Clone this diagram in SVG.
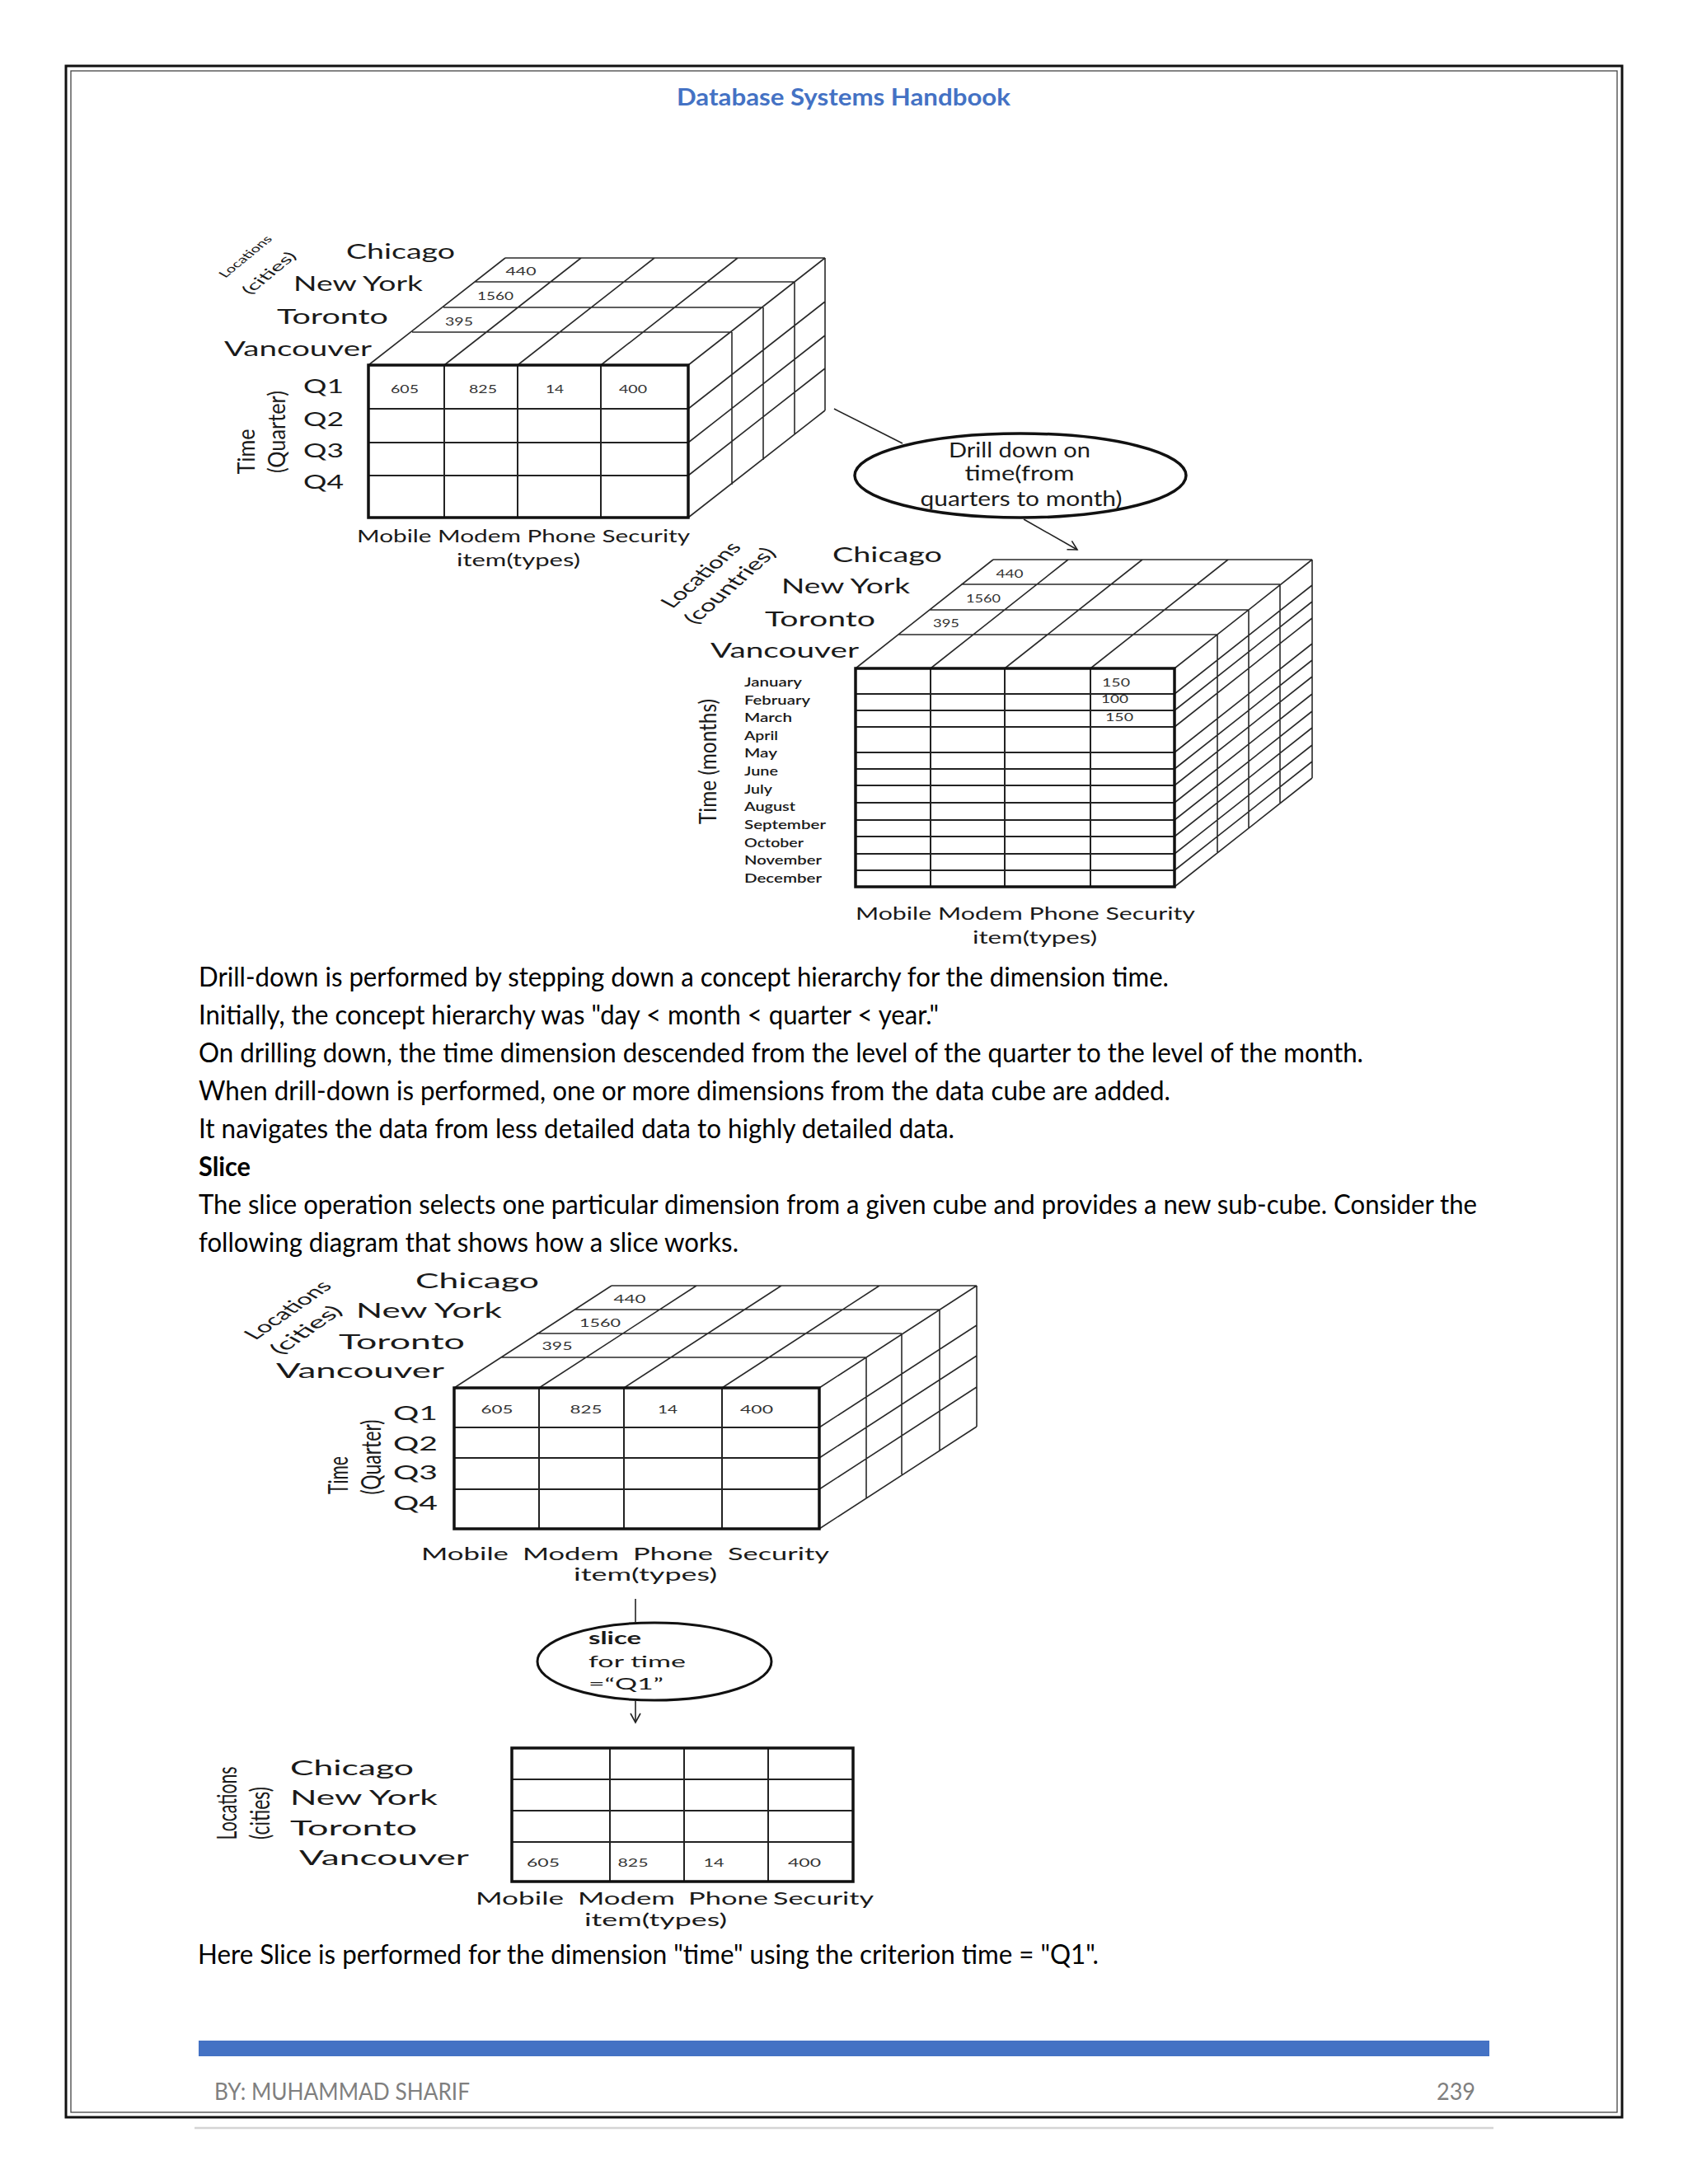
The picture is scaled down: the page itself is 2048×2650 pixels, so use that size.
<svg xmlns="http://www.w3.org/2000/svg" width="2048" height="2650" viewBox="0 0 2048 2650">
<style>
text{font-family:Lato,"Open Sans","DejaVu Sans",sans-serif;fill:#1a1a1a}
.body{font-size:33px;fill:#000}
.city{font-size:25px}
.q{font-size:24px}
.axis{font-size:22px}
.num{font-size:14px;fill:#333}
.mon{font-size:16px;font-weight:600}
.rot{font-size:20px}
.ell{font-size:25px}
.grid3d{fill:none;stroke:#2a2a2a;stroke-width:1.6}
.inner{fill:none;stroke:#222;stroke-width:2}
.front{fill:none;stroke:#111;stroke-width:3.5}
.conn{fill:none;stroke:#222;stroke-width:1.6}
</style>
<defs>
<marker id="open" markerWidth="14" markerHeight="14" refX="12" refY="7" orient="auto" markerUnits="userSpaceOnUse">
<path d="M1,1 L12,7 L1,13" fill="none" stroke="#222" stroke-width="1.6"/>
</marker>
</defs>
<rect width="2048" height="2650" fill="#fff"/>
<g id="page-frame">
<rect x="80" y="80" width="1888" height="2489" fill="none" stroke="#111" stroke-width="3"/>
<rect x="86" y="86" width="1876" height="2477" fill="none" stroke="#444" stroke-width="1.3"/>
<text x="821" y="128" font-size="28" font-weight="bold" style="fill:#4472C4" textLength="405" lengthAdjust="spacingAndGlyphs">Database Systems Handbook</text>
<rect x="241" y="2476" width="1566" height="19" fill="#4472C4"/>
<text x="260" y="2548" font-size="28" style="fill:#7f7f7f" textLength="310" lengthAdjust="spacingAndGlyphs">BY: MUHAMMAD SHARIF</text>
<text x="1743" y="2548" font-size="28" style="fill:#7f7f7f" textLength="47" lengthAdjust="spacingAndGlyphs">239</text>
<line x1="236" y1="2582" x2="1812" y2="2582" stroke="#d4d4d4" stroke-width="2.5"/>
</g>

<g id="cube-quarters">
<path class="grid3d" d="M500,403 H888 M538,373 H926 M576,342 H964 M613,313 H1001 M447,443 L613,313 M539,443 L705,313 M628,443 L794,313 M729,443 L895,313 M835,443 L1001,313 M888,403 V588 M926,373 V558 M964,342 V527 M1001,313 V498 M835,496 L1001,366 M835,537 L1001,407 M835,577 L1001,447 M835,628 L1001,498"/>
<path class="inner" d="M539,443 V628 M628,443 V628 M729,443 V628 M447,496 H835 M447,537 H835 M447,577 H835"/>
<rect class="front" x="447" y="443" width="388" height="185"/>
<text class="num" x="491" y="477" text-anchor="middle" textLength="34" lengthAdjust="spacingAndGlyphs">605</text>
<text class="num" x="586" y="477" text-anchor="middle" textLength="34" lengthAdjust="spacingAndGlyphs">825</text>
<text class="num" x="673" y="477" text-anchor="middle" textLength="22" lengthAdjust="spacingAndGlyphs">14</text>
<text class="num" x="768" y="477" text-anchor="middle" textLength="34" lengthAdjust="spacingAndGlyphs">400</text>
<text class="num" x="632" y="334" text-anchor="middle" textLength="37" lengthAdjust="spacingAndGlyphs">440</text>
<text class="num" x="601" y="364" text-anchor="middle" textLength="44" lengthAdjust="spacingAndGlyphs">1560</text>
<text class="num" x="557" y="395" text-anchor="middle" textLength="34" lengthAdjust="spacingAndGlyphs">395</text>
<text class="city" x="420" y="314" textLength="132" lengthAdjust="spacingAndGlyphs">Chicago</text>
<text class="city" x="356" y="353" textLength="157" lengthAdjust="spacingAndGlyphs">New York</text>
<text class="city" x="336" y="393" textLength="135" lengthAdjust="spacingAndGlyphs">Toronto</text>
<text class="city" x="272" y="432" textLength="179" lengthAdjust="spacingAndGlyphs">Vancouver</text>
<text class="q" x="368" y="477" textLength="49" lengthAdjust="spacingAndGlyphs">Q1</text>
<text class="q" x="368" y="517" textLength="49" lengthAdjust="spacingAndGlyphs">Q2</text>
<text class="q" x="368" y="555" textLength="49" lengthAdjust="spacingAndGlyphs">Q3</text>
<text class="q" x="368" y="593" textLength="49" lengthAdjust="spacingAndGlyphs">Q4</text>
<text class="rot" transform="translate(297,548) scale(1.45,1) rotate(-90)" text-anchor="middle" dominant-baseline="central" textLength="55" lengthAdjust="spacingAndGlyphs">Time</text>
<text class="rot" transform="translate(334,524) scale(1.45,1) rotate(-90)" text-anchor="middle" dominant-baseline="central" textLength="100" lengthAdjust="spacingAndGlyphs">(Quarter)</text>
<text transform="translate(297,311) scale(1.45,1) rotate(-50)" font-size="12" text-anchor="middle" dominant-baseline="central" textLength="62" lengthAdjust="spacingAndGlyphs">Locations</text>
<text transform="translate(326,331) scale(1.45,1) rotate(-50)" font-size="15" text-anchor="middle" dominant-baseline="central" textLength="62" lengthAdjust="spacingAndGlyphs">(cities)</text>
<text class="axis" x="433" y="658" textLength="404" lengthAdjust="spacingAndGlyphs">Mobile Modem Phone Security</text>
<text class="axis" x="554" y="687" textLength="150" lengthAdjust="spacingAndGlyphs">item(types)</text>
</g>

<g id="drill-down-ellipse">
<ellipse cx="1238" cy="577" rx="201" ry="51" fill="none" stroke="#111" stroke-width="3.5"/>
<text class="ell" x="1237" y="555" text-anchor="middle" textLength="172" lengthAdjust="spacingAndGlyphs">Drill down on</text>
<text class="ell" x="1237" y="583" text-anchor="middle" textLength="133" lengthAdjust="spacingAndGlyphs">time(from</text>
<text class="ell" x="1239" y="614" text-anchor="middle" textLength="245" lengthAdjust="spacingAndGlyphs">quarters to month)</text>
</g>

<g id="cube-months">
<path class="grid3d" d="M1090,770 H1477 M1128,740 H1515 M1166,709 H1553 M1205,679 H1592 M1038,811 L1205,679 M1129,811 L1296,679 M1219,811 L1386,679 M1323,811 L1490,679 M1425,811 L1592,679 M1477,770 V1035 M1515,740 V1005 M1553,709 V974 M1592,679 V944 M1425,842 L1592,710 M1425,862 L1592,730 M1425,882 L1592,750 M1425,913 L1592,781 M1425,933 L1592,801 M1425,953 L1592,821 M1425,974 L1592,842 M1425,995 L1592,863 M1425,1015 L1592,883 M1425,1036 L1592,904 M1425,1056 L1592,924 M1425,1076 L1592,944"/>
<path class="inner" d="M1129,811 V1076 M1219,811 V1076 M1323,811 V1076 M1038,842 H1425 M1038,862 H1425 M1038,882 H1425 M1038,913 H1425 M1038,933 H1425 M1038,953 H1425 M1038,974 H1425 M1038,995 H1425 M1038,1015 H1425 M1038,1036 H1425 M1038,1056 H1425"/>
<rect class="front" x="1038" y="811" width="387" height="265"/>
<text class="num" x="1225" y="701" text-anchor="middle" textLength="33" lengthAdjust="spacingAndGlyphs">440</text>
<text class="num" x="1193" y="731" text-anchor="middle" textLength="42" lengthAdjust="spacingAndGlyphs">1560</text>
<text class="num" x="1148" y="761" text-anchor="middle" textLength="32" lengthAdjust="spacingAndGlyphs">395</text>
<text class="num" x="1337" y="833" font-size="15" textLength="34" lengthAdjust="spacingAndGlyphs">150</text>
<text class="num" x="1336" y="853" font-size="15" textLength="33" lengthAdjust="spacingAndGlyphs">100</text>
<text class="num" x="1341" y="875" font-size="15" textLength="34" lengthAdjust="spacingAndGlyphs">150</text>
<text class="city" x="1010" y="682" font-size="26" textLength="133" lengthAdjust="spacingAndGlyphs">Chicago</text>
<text class="city" x="948" y="720" textLength="156" lengthAdjust="spacingAndGlyphs">New York</text>
<text class="city" x="928" y="760" textLength="134" lengthAdjust="spacingAndGlyphs">Toronto</text>
<text class="city" x="862" y="798" textLength="180" lengthAdjust="spacingAndGlyphs">Vancouver</text>
<text class="mon" x="903" y="833" textLength="70" lengthAdjust="spacingAndGlyphs">January</text>
<text class="mon" x="903" y="855" textLength="80" lengthAdjust="spacingAndGlyphs">February</text>
<text class="mon" x="903" y="876" textLength="58" lengthAdjust="spacingAndGlyphs">March</text>
<text class="mon" x="903" y="898" textLength="41" lengthAdjust="spacingAndGlyphs">April</text>
<text class="mon" x="903" y="919" textLength="40" lengthAdjust="spacingAndGlyphs">May</text>
<text class="mon" x="903" y="941" textLength="41" lengthAdjust="spacingAndGlyphs">June</text>
<text class="mon" x="903" y="963" textLength="34" lengthAdjust="spacingAndGlyphs">July</text>
<text class="mon" x="903" y="984" textLength="62" lengthAdjust="spacingAndGlyphs">August</text>
<text class="mon" x="903" y="1006" textLength="99" lengthAdjust="spacingAndGlyphs">September</text>
<text class="mon" x="903" y="1028" textLength="72" lengthAdjust="spacingAndGlyphs">October</text>
<text class="mon" x="903" y="1049" textLength="94" lengthAdjust="spacingAndGlyphs">November</text>
<text class="mon" x="903" y="1071" textLength="94" lengthAdjust="spacingAndGlyphs">December</text>
<text class="rot" transform="translate(857,924) scale(1.45,1) rotate(-90)" text-anchor="middle" dominant-baseline="central" textLength="152" lengthAdjust="spacingAndGlyphs">Time (months)</text>
<text transform="translate(849,697) scale(1.45,1) rotate(-52)" font-size="20" text-anchor="middle" dominant-baseline="central" textLength="95" lengthAdjust="spacingAndGlyphs">Locations</text>
<text transform="translate(884,710) scale(1.45,1) rotate(-52)" font-size="20" text-anchor="middle" dominant-baseline="central" textLength="111" lengthAdjust="spacingAndGlyphs">(countries)</text>
<text class="axis" x="1038" y="1116" textLength="412" lengthAdjust="spacingAndGlyphs">Mobile Modem Phone  Security</text>
<text class="axis" x="1180" y="1145" textLength="151" lengthAdjust="spacingAndGlyphs">item(types)</text>
</g>

<g id="text-body">
<text class="body" x="241" y="1197" textLength="1177" lengthAdjust="spacingAndGlyphs">Drill-down is performed by stepping down a concept hierarchy for the dimension time.</text>
<text class="body" x="241" y="1243" textLength="898" lengthAdjust="spacingAndGlyphs">Initially, the concept hierarchy was "day &lt; month &lt; quarter &lt; year."</text>
<text class="body" x="241" y="1289" textLength="1413" lengthAdjust="spacingAndGlyphs">On drilling down, the time dimension descended from the level of the quarter to the level of the month.</text>
<text class="body" x="241" y="1335" textLength="1179" lengthAdjust="spacingAndGlyphs">When drill-down is performed, one or more dimensions from the data cube are added.</text>
<text class="body" x="241" y="1381" textLength="917" lengthAdjust="spacingAndGlyphs">It navigates the data from less detailed data to highly detailed data.</text>
<text class="body" x="241" y="1427" font-weight="bold" textLength="63" lengthAdjust="spacingAndGlyphs">Slice</text>
<text class="body" x="241" y="1473" textLength="1551" lengthAdjust="spacingAndGlyphs">The slice operation selects one particular dimension from a given cube and provides a new sub-cube. Consider the</text>
<text class="body" x="241" y="1519" textLength="655" lengthAdjust="spacingAndGlyphs">following diagram that shows how a slice works.</text>
<text class="body" x="240" y="2383" textLength="1093" lengthAdjust="spacingAndGlyphs">Here Slice is performed for the dimension "time" using the criterion time = "Q1".</text>
</g>

<g id="cube-slice-source">
<path class="grid3d" d="M608,1647 H1051 M651,1618 H1094 M697,1589 H1140 M742,1560 H1185 M551,1684 L742,1560 M654,1684 L845,1560 M757,1684 L948,1560 M876,1684 L1067,1560 M994,1684 L1185,1560 M1051,1647 V1818 M1094,1618 V1789 M1140,1589 V1760 M1185,1560 V1731 M994,1732 L1185,1608 M994,1769 L1185,1645 M994,1807 L1185,1683 M994,1855 L1185,1731"/>
<path class="inner" d="M654,1684 V1855 M757,1684 V1855 M876,1684 V1855 M551,1732 H994 M551,1769 H994 M551,1807 H994"/>
<rect class="front" x="551" y="1684" width="443" height="171"/>
<text class="num" x="603" y="1715" font-size="15" text-anchor="middle" textLength="39" lengthAdjust="spacingAndGlyphs">605</text>
<text class="num" x="711" y="1715" font-size="15" text-anchor="middle" textLength="39" lengthAdjust="spacingAndGlyphs">825</text>
<text class="num" x="810" y="1715" font-size="15" text-anchor="middle" textLength="24" lengthAdjust="spacingAndGlyphs">14</text>
<text class="num" x="918" y="1715" font-size="15" text-anchor="middle" textLength="40" lengthAdjust="spacingAndGlyphs">400</text>
<text class="num" x="764" y="1581" text-anchor="middle" textLength="39" lengthAdjust="spacingAndGlyphs">440</text>
<text class="num" x="728" y="1610" text-anchor="middle" textLength="50" lengthAdjust="spacingAndGlyphs">1560</text>
<text class="num" x="676" y="1638" text-anchor="middle" textLength="37" lengthAdjust="spacingAndGlyphs">395</text>
<text class="city" x="504" y="1563" font-size="24" textLength="150" lengthAdjust="spacingAndGlyphs">Chicago</text>
<text class="city" x="432" y="1599" font-size="24" textLength="177" lengthAdjust="spacingAndGlyphs">New York</text>
<text class="city" x="411" y="1637" font-size="24" textLength="153" lengthAdjust="spacingAndGlyphs">Toronto</text>
<text class="city" x="335" y="1672" font-size="24" textLength="204" lengthAdjust="spacingAndGlyphs">Vancouver</text>
<text class="q" x="477" y="1723" textLength="54" lengthAdjust="spacingAndGlyphs">Q1</text>
<text class="q" x="477" y="1760" textLength="54" lengthAdjust="spacingAndGlyphs">Q2</text>
<text class="q" x="477" y="1795" textLength="54" lengthAdjust="spacingAndGlyphs">Q3</text>
<text class="q" x="477" y="1832" textLength="54" lengthAdjust="spacingAndGlyphs">Q4</text>
<text class="rot" transform="translate(410,1790) scale(1.6,1) rotate(-90)" text-anchor="middle" dominant-baseline="central" textLength="46" lengthAdjust="spacingAndGlyphs">Time</text>
<text class="rot" transform="translate(450,1768) scale(1.6,1) rotate(-90)" text-anchor="middle" dominant-baseline="central" textLength="91" lengthAdjust="spacingAndGlyphs">(Quarter)</text>
<text transform="translate(348,1589) scale(1.6,1) rotate(-48)" font-size="19" text-anchor="middle" dominant-baseline="central" textLength="88" lengthAdjust="spacingAndGlyphs">Locations</text>
<text transform="translate(370,1613) scale(1.6,1) rotate(-48)" font-size="19" text-anchor="middle" dominant-baseline="central" textLength="72" lengthAdjust="spacingAndGlyphs">(cities)</text>
<text class="axis" y="1893" font-size="19"><tspan x="511" textLength="106" lengthAdjust="spacingAndGlyphs">Mobile</tspan><tspan x="634" textLength="117" lengthAdjust="spacingAndGlyphs">Modem</tspan><tspan x="768" textLength="97" lengthAdjust="spacingAndGlyphs">Phone</tspan><tspan x="883" textLength="123" lengthAdjust="spacingAndGlyphs">Security</tspan></text>
<text class="axis" x="696" y="1918" font-size="19" textLength="174" lengthAdjust="spacingAndGlyphs">item(types)</text>
</g>

<g id="slice-ellipse">
<ellipse cx="794" cy="2016" rx="142" ry="47" fill="none" stroke="#111" stroke-width="3"/>
<text x="714" y="1995" font-size="20" font-weight="bold" textLength="64" lengthAdjust="spacingAndGlyphs">slice</text>
<text x="714" y="2023" font-size="20" textLength="118" lengthAdjust="spacingAndGlyphs">for time</text>
<text x="714" y="2050" font-size="20" textLength="91" lengthAdjust="spacingAndGlyphs">=“Q1”</text>
</g>

<g id="slice-result">
<path class="inner" d="M740,2121 V2283 M830,2121 V2283 M932,2121 V2283 M621,2159 H1035 M621,2197 H1035 M621,2235 H1035"/>
<rect class="front" x="621" y="2121" width="414" height="162"/>
<text class="num" x="659" y="2265" font-size="15" text-anchor="middle" textLength="40" lengthAdjust="spacingAndGlyphs">605</text>
<text class="num" x="768" y="2265" font-size="15" text-anchor="middle" textLength="37" lengthAdjust="spacingAndGlyphs">825</text>
<text class="num" x="866" y="2265" font-size="15" text-anchor="middle" textLength="25" lengthAdjust="spacingAndGlyphs">14</text>
<text class="num" x="976" y="2265" font-size="15" text-anchor="middle" textLength="40" lengthAdjust="spacingAndGlyphs">400</text>
<text class="city" x="352" y="2154" font-size="24" textLength="150" lengthAdjust="spacingAndGlyphs">Chicago</text>
<text class="city" x="352" y="2190" font-size="24" textLength="179" lengthAdjust="spacingAndGlyphs">New York</text>
<text class="city" x="352" y="2227" font-size="24" textLength="154" lengthAdjust="spacingAndGlyphs">Toronto</text>
<text class="city" x="363" y="2263" font-size="24" textLength="206" lengthAdjust="spacingAndGlyphs">Vancouver</text>
<text class="rot" transform="translate(275,2188) scale(1.6,1) rotate(-90)" text-anchor="middle" dominant-baseline="central" font-size="21" textLength="89" lengthAdjust="spacingAndGlyphs">Locations</text>
<text class="rot" transform="translate(315,2200) scale(1.6,1) rotate(-90)" text-anchor="middle" dominant-baseline="central" font-size="21" textLength="64" lengthAdjust="spacingAndGlyphs">(cities)</text>
<text class="axis" y="2311" font-size="19"><tspan x="577" textLength="107" lengthAdjust="spacingAndGlyphs">Mobile</tspan><tspan x="701" textLength="118" lengthAdjust="spacingAndGlyphs">Modem</tspan><tspan x="835" textLength="97" lengthAdjust="spacingAndGlyphs">Phone</tspan><tspan x="938" textLength="122" lengthAdjust="spacingAndGlyphs">Security</tspan></text>
<text class="axis" x="709" y="2337" font-size="19" textLength="173" lengthAdjust="spacingAndGlyphs">item(types)</text>
</g>

<g id="connectors">
<line class="conn" x1="1012" y1="496" x2="1095" y2="538"/>
<line class="conn" x1="1242" y1="630" x2="1307" y2="667" marker-end="url(#open)"/>
<line class="conn" x1="771" y1="1940" x2="771" y2="1969"/>
<line class="conn" x1="771" y1="2063" x2="771" y2="2090" marker-end="url(#open)"/>
</g>
</svg>
